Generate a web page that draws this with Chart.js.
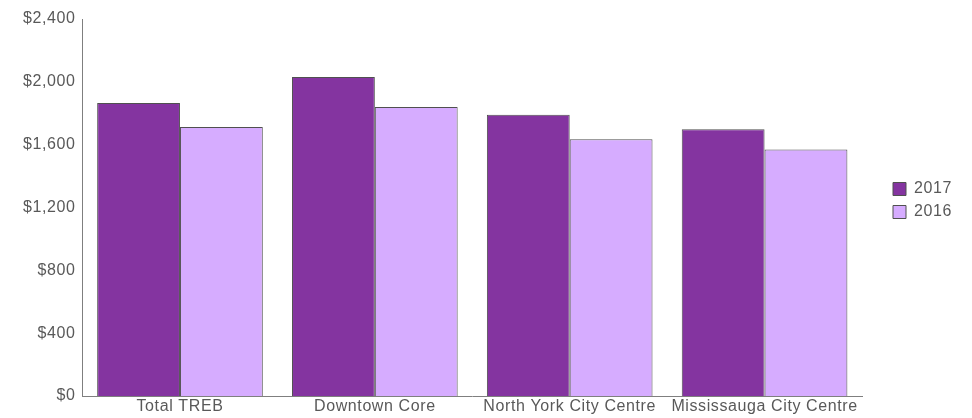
<!DOCTYPE html>
<html>
<head>
<meta charset="utf-8">
<script src="https://cdn.jsdelivr.net/npm/chart.js@4/dist/chart.umd.min.js"></script>
<style>
  html, body { margin: 0; padding: 0; background: #fff; }
  #wrap { width: 972px; height: 418px; }
</style>
</head>
<body>
<div id="wrap"><canvas id="chart"></canvas></div>
<script>
const categories = ["Total TREB", "Downtown Core", "North York City Centre", "Mississauga City Centre"]
const values2017 = [1865, 2030, 1790, 1698]
const values2016 = [1712, 1840, 1634, 1570]
const yTicks = [0, 400, 800, 1200, 1600, 2000, 2400]

const textColor = "#595959"
const font = { family: "'Liberation Sans', Arial, sans-serif", size: 16 }

// the reference text is a little spaced out, and the legend sits further right and higher
const spacingAndLegend = {
  id: "spacingAndLegend",
  beforeLayout(chart) { chart.ctx.letterSpacing = "0.6px" },
  afterLayout(chart) {
    chart.legend.left += 24
    chart.legend.right += 24
    chart.legend.top -= 18
    chart.legend.bottom -= 18
  },
  beforeDraw(chart) { chart.ctx.letterSpacing = "0.6px" }
}

new Chart(document.getElementById("chart"), {
  type: "bar",
  data: {
    labels: categories,
    datasets: [
      { label: "2017", data: values2017, backgroundColor: "#8434A0", borderColor: "#505050", borderWidth: 1 },
      { label: "2016", data: values2016, backgroundColor: "#D6ACFF", borderColor: "#505050", borderWidth: 1 }
    ]
  },
  options: {
    responsive: true,
    maintainAspectRatio: false,
    animation: false,
    layout: { padding: { top: 19, right: 34, bottom: 0, left: 16 } },
    datasets: { bar: { barPercentage: 1, categoryPercentage: 0.85 } },
    plugins: {
      legend: {
        position: "right",
        labels: { color: textColor, font, boxWidth: 13, boxHeight: 13, padding: 7 }
      },
      tooltip: { enabled: false }
    },
    scales: {
      x: {
        grid: { display: false, drawTicks: false },
        border: { display: true, color: "#7f7f7f" },
        ticks: { color: textColor, font: { ...font, lineHeight: 1 }, padding: 3, maxRotation: 0, autoSkip: false }
      },
      y: {
        min: yTicks[0],
        max: yTicks[yTicks.length - 1],
        afterBuildTicks: axis => { axis.ticks = yTicks.map(v => ({ value: v })) },
        grid: { display: false, drawTicks: false },
        border: { display: true, color: "#7f7f7f" },
        ticks: {
          color: textColor, font, padding: 7,
          callback: v => "$" + v.toLocaleString("en-US")
        }
      }
    }
  },
  plugins: [spacingAndLegend]
})
</script>
</body>
</html>
